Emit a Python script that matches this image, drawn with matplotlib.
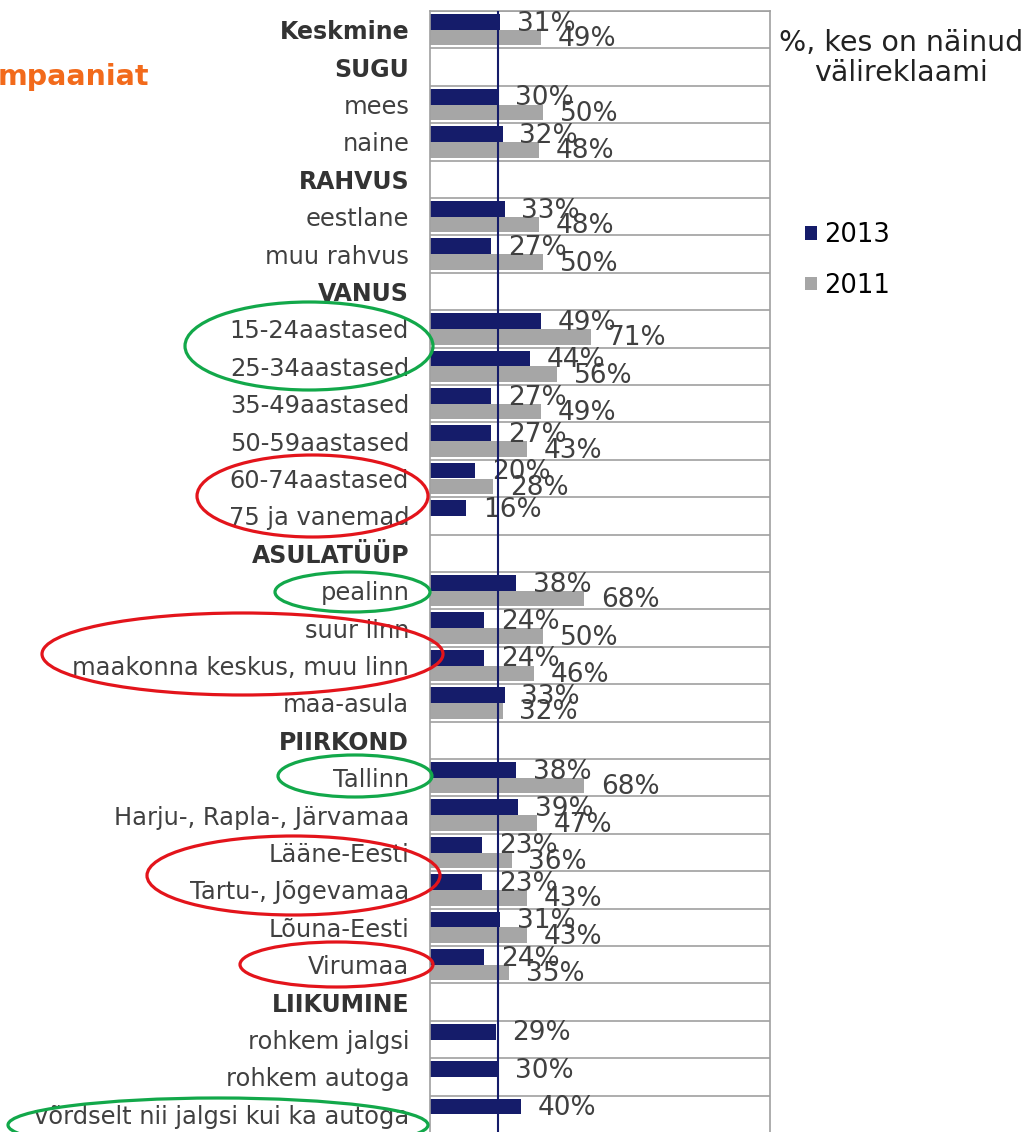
import numpy as np
import matplotlib
matplotlib.use("Agg")
import matplotlib.pyplot as plt
from matplotlib.patches import Ellipse

# Andmed: kategooriad ja protsendid (None = andmed puuduvad)
categories = [
    "Keskmine", "SUGU", "mees", "naine", "RAHVUS", "eestlane", "muu rahvus",
    "VANUS", "15-24aastased", "25-34aastased", "35-49aastased", "50-59aastased",
    "60-74aastased", "75 ja vanemad", "ASULATÜÜP", "pealinn", "suur linn",
    "maakonna keskus, muu linn", "maa-asula", "PIIRKOND", "Tallinn",
    "Harju-, Rapla-, Järvamaa", "Lääne-Eesti", "Tartu-, Jõgevamaa", "Lõuna-Eesti",
    "Virumaa", "LIIKUMINE", "rohkem jalgsi", "rohkem autoga",
    "võrdselt nii jalgsi kui ka autoga",
]
bold_rows = ["Keskmine", "SUGU", "RAHVUS", "VANUS", "ASULATÜÜP", "PIIRKOND", "LIIKUMINE"]

values_2013 = [31, None, 30, 32, None, 33, 27, None, 49, 44, 27, 27, 20, 16,
               None, 38, 24, 24, 33, None, 38, 39, 23, 23, 31, 24, None, 29, 30, 40]
values_2011 = [49, None, 50, 48, None, 48, 50, None, 71, 56, 49, 43, 28, None,
               None, 68, 50, 46, 32, None, 68, 47, 36, 43, 43, 35, None, None, None, None]
average_line = 30

# Käsitsi joonistatud ringid siltide ümber: (vasak, ülemine, parem, alumine) pikslites, värv
highlights = [
    ((185, 302, 433, 390), "green"),   # 15-24, 25-34
    ((197, 455, 428, 537), "red"),     # 60-74, 75+
    ((275, 572, 430, 612), "green"),   # pealinn
    ((42, 613, 443, 695), "red"),      # suur linn, maakonna keskus
    ((278, 755, 432, 797), "green"),   # Tallinn
    ((147, 836, 440, 915), "red"),     # Lääne-Eesti, Tartu
    ((240, 942, 433, 987), "red"),     # Virumaa
    ((8, 1098, 428, 1152), "green"),   # võrdselt
]

dark = "#151C6A"
grey = "#A6A6A6"
ring_colors = {"green": "#12A84A", "red": "#E3141B"}

W, H = 1027, 1132
fig = plt.figure(figsize=(W / 100, H / 100), dpi=100)
ax = fig.add_axes([430 / W, 1 - 11 / H - 1122 / H, 340 / W, 1122 / H])

n = len(categories)
y = np.arange(n)
h = 0.42

for vals, off, color, lab in [(values_2013, -h / 2, dark, "2013"), (values_2011, h / 2, grey, "2011")]:
    idx = [i for i, v in enumerate(vals) if v is not None]
    widths = [vals[i] for i in idx]
    ax.barh(y[idx] + off, widths, height=h, color=color, label=lab)
    for i in idx:
        ax.annotate(f"{vals[i]}%", (vals[i], y[i] + off), xytext=(12, -1.2),
                    textcoords="offset points", va="center", ha="left",
                    fontsize=19, color="#404040")

ax.set_xlim(0, 150)
ax.set_ylim(n - 0.5, -0.5)
ax.axvline(average_line, color=dark, lw=1.5, zorder=3)
for b in np.arange(n + 1) - 0.5:
    ax.axhline(b, color="#A0A0A0", lw=1.2, zorder=0)

ax.set_xticks([])
ax.set_yticks(y)
ax.set_yticklabels(categories, fontsize=17.4, color="#404040")
for t in ax.get_yticklabels():
    if t.get_text() in bold_rows:
        t.set_fontweight("bold")
        t.set_fontsize(17)
        t.set_color("#333333")
ax.tick_params(axis="y", length=0, pad=15)
for s in ax.spines.values():
    s.set_color("#A0A0A0")
    s.set_linewidth(1.2)
ax.spines["bottom"].set_visible(False)

# Ringid
for (x0, y0, x1, y1), c in highlights:
    e = Ellipse(((x0 + x1) / 2 / W, 1 - (y0 + y1) / 2 / H), (x1 - x0) / W, (y1 - y0) / H,
                transform=fig.transFigure, fill=False, edgecolor=ring_colors[c],
                lw=2.3, clip_on=False, zorder=5)
    fig.add_artist(e)

# Pealkiri (ära lõigatud) ja legend
fig.text(-2 / W, 1 - 77 / H, "mpaaniat", color="#F26A1B", fontsize=20.5,
         fontweight="bold", ha="left", va="center")
fig.text(901 / W, 1 - 58 / H, "%, kes on näinud\nvälireklaami", fontsize=20.5,
         color="#222222", ha="center", va="center", linespacing=1.05)
fig.legend(loc="upper left", bbox_to_anchor=(795 / W, 1 - 212 / H), frameon=False,
           fontsize=18.5, handlelength=0.45, handleheight=0.45, handletextpad=0.3,
           labelspacing=0.95, borderaxespad=0)

fig.savefig("out.png", dpi=100)
